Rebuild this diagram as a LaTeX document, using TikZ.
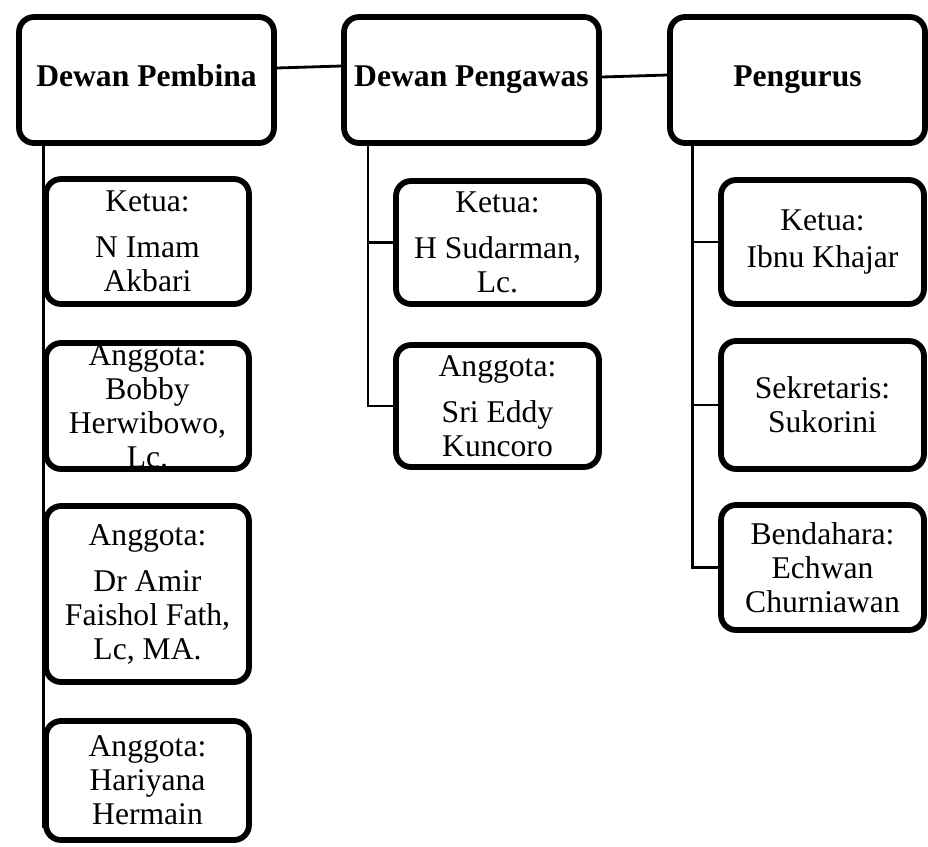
\documentclass[tikz,border=0pt]{standalone}
\usepackage{fontspec}
\setmainfont{Liberation Serif}

\tikzset{
  unitbox/.style={draw, line width=3.3pt, rounded corners=0.3cm,
    minimum width=5.1cm, minimum height=2.52cm, align=center,
    text height=1.6ex, text depth=0.1ex,
    font=\bfseries\fontsize{18}{19.3}\selectfont},
  memberbox/.style={draw, line width=3.3pt, rounded corners=0.3cm,
    minimum width=4.06cm, inner sep=0pt, align=center,
    font=\fontsize{18}{19.3}\selectfont},
  link/.style={line width=1.6pt}
}

\begin{document}
\begin{tikzpicture}[x=0.02cm, y=-0.02cm]
    \useasboundingbox (0,0) rectangle (928,846);

    % The three boards
    \node[unitbox] (pembina) at (146.5,80) {Dewan Pembina};
    \node[unitbox] (pengawas) at (471.5,80) {Dewan Pengawas};
    \node[unitbox] (pengurus) at (797.5,80) {Pengurus};

    % Members of Dewan Pembina
    \node[memberbox, minimum height=2.50cm] (ketuaA) at (147.5,241.5) {Ketua:\\[7pt]N Imam\\Akbari};
    \node[memberbox, minimum height=2.52cm] (anggotaA) at (147.5,406) {Anggota:\\Bobby\\Herwibowo,\\Lc.};
    \node[memberbox, minimum height=3.52cm] (anggotaB) at (147.5,594) {Anggota:\\[7pt]Dr Amir\\Faishol Fath,\\Lc, MA.};
    \node[memberbox, minimum height=2.38cm] (anggotaC) at (147.5,780.5) {Anggota:\\Hariyana\\Hermain};

    % Members of Dewan Pengawas
    \node[memberbox, minimum height=2.46cm] (ketuaB) at (497.5,242.5) {Ketua:\\[7pt]H Sudarman,\\Lc.};
    \node[memberbox, minimum height=2.44cm] (anggotaD) at (497.5,406) {Anggota:\\[7pt]Sri Eddy\\Kuncoro};

    % Members of Pengurus
    \node[memberbox, minimum height=2.48cm] (ketuaC) at (822.5,242) {Ketua:\\[2pt]Ibnu Khajar};
    \node[memberbox, minimum height=2.56cm] (sekretaris) at (822.5,405) {Sekretaris:\\Sukorini};
    \node[memberbox, minimum height=2.50cm] (bendahara) at (822.5,567.5) {Bendahara:\\Echwan\\Churniawan};

    % Links between the boards
    \draw[link] ([yshift=0.24cm]pembina.east) -- ([yshift=0.28cm]pengawas.west);
    \draw[link] ([yshift=0.06cm]pengawas.east) -- ([yshift=0.1cm]pengurus.west);

    % Spines down to the members
    \draw[link] (anggotaC.west |- pembina.south) -- ([yshift=0.3cm]anggotaC.south west);
    \draw[link] ([xshift=-2.07cm]pengawas.south) |- (ketuaB.west);
    \draw[link] ([xshift=-2.07cm]pengawas.south) |- (anggotaD.west);
    \draw[link] ([xshift=-2.1cm]pengurus.south) |- (ketuaC.west);
    \draw[link] ([xshift=-2.1cm]pengurus.south) |- (sekretaris.west);
    \draw[link] ([xshift=-2.1cm]pengurus.south) |- (bendahara.west);
\end{tikzpicture}
\end{document}
